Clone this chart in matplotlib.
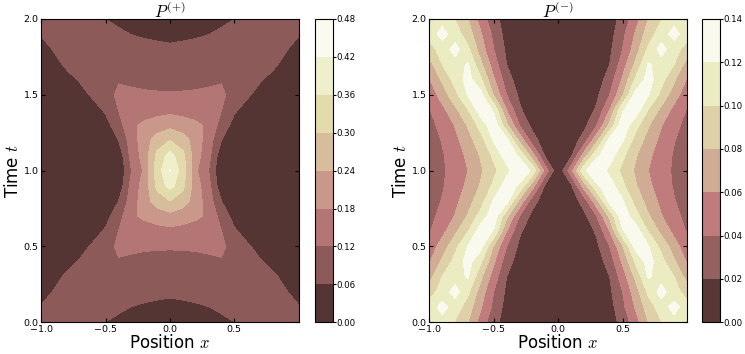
import numpy as np
import matplotlib
matplotlib.use('Agg')
import matplotlib.pyplot as plt

plt.rcParams['mathtext.fontset'] = 'cm'

# both maps are symmetric in x and in t, so only the lower-left quarter
# (t = 0..1, x = -1..0, step 0.1) is read off the picture
x_half = [-1.0, -0.9, -0.8, -0.7, -0.6, -0.5, -0.4, -0.3, -0.2, -0.1, 0.0]
t_half = [0.0, 0.1, 0.2, 0.3, 0.4, 0.5, 0.6, 0.7, 0.8, 0.9, 1.0]

# rows = t, columns = x
p_plus_half = [
    [0.085, 0.085, 0.085, 0.080, 0.070, 0.0595, 0.050, 0.045, 0.040, 0.037, 0.035],
    [0.064, 0.075, 0.082, 0.085, 0.080, 0.074, 0.068, 0.059, 0.052, 0.048, 0.045],
    [0.040, 0.0644, 0.075, 0.085, 0.088, 0.090, 0.090, 0.088, 0.079, 0.074, 0.070],
    [0.020, 0.045, 0.070, 0.080, 0.090, 0.095, 0.100, 0.097, 0.093, 0.090, 0.088],
    [0.010, 0.025, 0.045, 0.065, 0.085, 0.105, 0.116, 0.112, 0.108, 0.105, 0.103],
    [0.005, 0.010, 0.025, 0.042, 0.068, 0.100, 0.130, 0.128, 0.126, 0.125, 0.125],
    [0.000, 0.005, 0.010, 0.020, 0.040, 0.068, 0.121, 0.140, 0.155, 0.160, 0.163],
    [0.000, 0.000, 0.005, 0.010, 0.020, 0.040, 0.095, 0.170, 0.190, 0.205, 0.220],
    [0.000, 0.000, 0.000, 0.005, 0.010, 0.020, 0.060, 0.150, 0.210, 0.270, 0.300],
    [0.000, 0.000, 0.000, 0.000, 0.005, 0.010, 0.020, 0.140, 0.205, 0.315, 0.383],
    [0.000, 0.000, 0.000, 0.000, 0.000, 0.000, 0.005, 0.120, 0.190, 0.330, 0.423],
]

p_minus_half = [
    [0.110, 0.112, 0.099, 0.080, 0.051, 0.027, 0.010, 0.005, 0.002, 0.000, 0.000],
    [0.108, 0.128, 0.110, 0.090, 0.062, 0.035, 0.012, 0.004, 0.001, 0.000, 0.000],
    [0.092, 0.108, 0.128, 0.104, 0.070, 0.040, 0.016, 0.005, 0.001, 0.000, 0.000],
    [0.072, 0.100, 0.112, 0.122, 0.084, 0.050, 0.020, 0.008, 0.002, 0.000, 0.000],
    [0.058, 0.083, 0.107, 0.128, 0.103, 0.063, 0.029, 0.010, 0.003, 0.000, 0.000],
    [0.047, 0.069, 0.094, 0.121, 0.127, 0.078, 0.040, 0.016, 0.005, 0.001, 0.000],
    [0.0385, 0.054, 0.075, 0.099, 0.132, 0.118, 0.060, 0.023, 0.008, 0.002, 0.000],
    [0.034, 0.046, 0.061, 0.082, 0.108, 0.133, 0.085, 0.040, 0.014, 0.003, 0.000],
    [0.031, 0.041, 0.0545, 0.072, 0.092, 0.122, 0.128, 0.075, 0.029, 0.008, 0.000],
    [0.030, 0.038, 0.050, 0.064, 0.082, 0.104, 0.130, 0.117, 0.069, 0.016, 0.000],
    [0.030, 0.037, 0.048, 0.060, 0.077, 0.095, 0.114, 0.135, 0.117, 0.052, 0.002],
]

levels_plus = [0.00, 0.06, 0.12, 0.18, 0.24, 0.30, 0.36, 0.42, 0.48]
levels_minus = [0.00, 0.02, 0.04, 0.06, 0.08, 0.10, 0.12, 0.14]


def mirror(q):
    q = np.array(q)
    q = np.hstack([q, q[:, -2::-1]])
    return np.vstack([q, q[-2::-1, :]])


x = np.concatenate([x_half, -np.array(x_half[-2::-1])])
t = np.concatenate([t_half, 2.0 - np.array(t_half[-2::-1])])
X, T = np.meshgrid(x, t)

fig = plt.figure(figsize=(7.45, 3.54), dpi=100)

panels = [
    (p_plus_half, levels_plus, r'$P^{(+)}$', [0.0557, 0.0895, 0.345, 0.857], [0.4228, 0.0895, 0.0242, 0.857]),
    (p_minus_half, levels_minus, r'$P^{(-)}$', [0.5762, 0.0895, 0.346, 0.857], [0.9420, 0.0895, 0.0246, 0.857]),
]

for half, levels, title, ax_box, cb_box in panels:
    ax = fig.add_axes(ax_box)
    cax = fig.add_axes(cb_box)
    cs = ax.contourf(X, T, mirror(half), levels=levels, cmap='pink')
    ax.set_xlim(-1, 1)
    ax.set_ylim(0, 2)
    ax.set_xticks([-1.0, -0.5, 0.0, 0.5])
    ax.set_yticks([0.0, 0.5, 1.0, 1.5, 2.0])
    ax.tick_params(direction='in', top=True, right=True, labelsize=6.8, length=3, pad=2)
    ax.set_xlabel(r'Position $x$', fontsize=12, labelpad=0)
    ax.set_ylabel(r'Time $t$', fontsize=12, labelpad=1)
    ax.set_title(title, fontsize=12, pad=1)

    cb = fig.colorbar(cs, cax=cax, ticks=levels)
    cb.ax.set_yticklabels(['%.2f' % v for v in levels])
    cb.ax.tick_params(labelsize=6.2, length=2, pad=0.6)

plt.savefig('out.png', dpi=100)
